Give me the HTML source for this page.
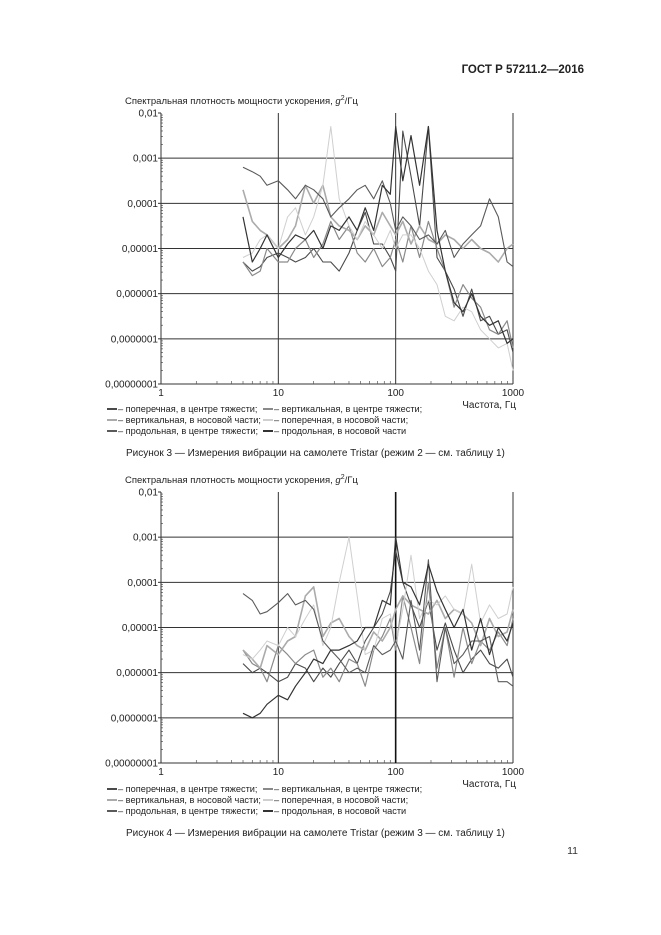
<!DOCTYPE html>
<html><head><meta charset="utf-8"><style>
html,body{margin:0;padding:0;background:#fff;}
svg{display:block;font-family:"Liberation Sans",sans-serif;}
</style></head><body>
<svg id="page" width="661" height="935" viewBox="0 0 661 935" xmlns="http://www.w3.org/2000/svg">
<text x="584" y="73" text-anchor="end" font-size="11.5" font-weight="bold" fill="#222">ГОСТ Р 57211.2—2016</text>
<text x="578" y="854" text-anchor="end" font-size="10.5" fill="#333">11</text>
</svg>
<script>
const freqs=[5,6,7,8,10,12,14,17,20,24,28,33,40,47,55,65,77,90,100,115,135,160,190,225,265,315,375,445,530,630,750,890,1000];
const yTicks=["0,01","0,001","0,0001","0,00001","0,000001","0,0000001","0,00000001"];
const xTicks=["1","10","100","1000"];
const legendLabels=["– поперечная, в центре тяжести;","– вертикальная, в центре тяжести;","– вертикальная, в носовой части;","– поперечная, в носовой части;","– продольная, в центре тяжести;","– продольная, в носовой части"];
// chart 1 series (log10 of g²/Hz)
const c1PopCenter=[-5.3,-5.5,-5.4,-5.2,-5.1,-5.2,-5.3,-5.2,-5.0,-5.3,-5.3,-5.5,-5.1,-4.6,-4.2,-4.9,-4.9,-5.2,-5.5,-2.4,-3.4,-4.5,-2.3,-5.2,-5.5,-5.9,-6.5,-5.9,-6.6,-6.5,-6.9,-6.8,-7.3];
const c1VertCenter=[-5.3,-5.6,-5.5,-5.0,-5.3,-5.3,-5.0,-4.8,-5.2,-4.9,-4.4,-4.8,-4.5,-5.1,-5.3,-5.0,-5.4,-5.2,-4.8,-5.3,-4.5,-5.2,-4.4,-5.0,-5.5,-6.3,-5.8,-6.1,-6.3,-6.8,-6.9,-6.6,-7.2];
const c1VertNose=[-3.7,-4.4,-4.6,-4.7,-5.0,-4.8,-4.5,-3.6,-4.0,-3.6,-4.3,-4.5,-4.6,-4.8,-4.5,-4.7,-4.2,-4.5,-4.7,-4.4,-4.9,-4.5,-4.8,-4.9,-4.7,-4.8,-5.0,-4.8,-5.0,-5.1,-5.3,-5.0,-4.9];
const c1PopNose=[-5.2,-5.1,-4.8,-4.7,-5.0,-4.3,-4.1,-4.7,-4.3,-3.6,-2.3,-3.9,-4.5,-4.8,-4.4,-4.7,-5.0,-4.6,-5.0,-4.7,-4.7,-5.0,-5.5,-5.8,-6.5,-6.6,-6.3,-6.4,-6.8,-7.0,-7.2,-7.1,-7.7];
const c1ProdCenter=[-3.2,-3.3,-3.4,-3.6,-3.5,-3.7,-3.9,-3.6,-3.7,-3.9,-4.3,-4.1,-3.9,-3.7,-3.6,-3.9,-3.5,-4.0,-4.6,-4.3,-4.5,-4.8,-4.7,-4.9,-4.6,-5.2,-4.9,-4.7,-4.5,-3.9,-4.3,-5.3,-5.4];
const c1ProdNose=[-4.3,-5.3,-5.0,-4.7,-5.2,-4.9,-4.7,-4.8,-4.6,-5.0,-4.5,-4.6,-4.3,-4.6,-4.1,-4.6,-3.6,-3.8,-2.3,-3.5,-2.5,-3.6,-2.3,-4.6,-5.5,-6.2,-6.4,-6.0,-6.5,-6.7,-6.6,-7.1,-7.0];
// chart 2 series
const c2PopCenter=[-5.8,-6.0,-5.9,-6.0,-6.2,-6.1,-5.8,-5.9,-6.2,-5.9,-6.1,-5.8,-5.5,-5.8,-5.3,-5.0,-4.7,-4.2,-3.3,-4.0,-4.5,-5.0,-4.4,-5.5,-4.9,-5.5,-6.0,-5.7,-5.5,-5.8,-5.9,-5.7,-6.1];
const c2VertCenter=[-5.5,-5.8,-5.9,-6.2,-5.4,-5.6,-5.8,-5.6,-5.5,-6.1,-5.9,-6.2,-5.7,-5.8,-6.3,-5.5,-5.2,-4.8,-5.5,-4.3,-5.0,-5.8,-4.0,-5.9,-5.0,-6.1,-5.0,-5.8,-5.3,-5.5,-5.1,-5.4,-4.8];
const c2VertNose=[-5.5,-5.7,-5.9,-5.4,-5.6,-5.3,-5.2,-4.3,-4.1,-5.2,-4.9,-4.8,-5.2,-5.4,-5.5,-5.1,-5.3,-5.0,-4.6,-4.3,-4.5,-4.6,-4.7,-4.4,-4.8,-4.6,-4.7,-4.9,-5.4,-4.8,-5.2,-5.1,-4.6];
const c2PopNose=[-5.6,-5.7,-5.5,-5.3,-5.4,-5.0,-5.2,-4.8,-4.5,-5.4,-5.0,-4.0,-3.0,-4.3,-5.6,-5.5,-4.8,-4.7,-5.4,-4.6,-3.4,-4.8,-4.4,-4.5,-4.3,-4.6,-4.7,-3.6,-4.9,-4.5,-4.8,-4.7,-4.1];
const c2ProdCenter=[-4.25,-4.4,-4.7,-4.65,-4.45,-4.25,-4.5,-4.4,-4.6,-5.3,-5.5,-5.7,-6.0,-5.9,-6.0,-5.4,-5.6,-5.5,-5.3,-5.7,-4.4,-5.5,-3.5,-6.2,-5.0,-5.8,-5.6,-5.3,-5.3,-5.2,-6.2,-6.2,-6.3];
const c2ProdNose=[-6.9,-7.0,-6.9,-6.7,-6.5,-6.6,-6.3,-6.0,-5.7,-5.8,-5.5,-5.5,-5.4,-5.3,-5.0,-5.0,-4.4,-4.5,-3.0,-4.0,-4.1,-4.5,-3.6,-4.2,-4.6,-5.0,-4.6,-5.5,-4.8,-5.6,-5.0,-5.3,-4.9];

const charts=[
 {name:'figure-3',x0:161,x1:513,y0:113,y1:384,title:'Спектральная плотность мощности ускорения, ',tY:104,series:[c1PopCenter,c1VertCenter,c1VertNose,c1PopNose,c1ProdCenter,c1ProdNose],legY:412,cap:'Рисунок 3 — Измерения вибрации на самолете Tristar (режим 2 — см. таблицу 1)',capY:456},
 {name:'figure-4',x0:161,x1:513,y0:492,y1:763,title:'Спектральная плотность мощности ускорения, ',tY:483,series:[c2PopCenter,c2VertCenter,c2VertNose,c2PopNose,c2ProdCenter,c2ProdNose],legY:792,cap:'Рисунок 4 — Измерения вибрации на самолете Tristar (режим 3 — см. таблицу 1)',capY:836}
];
const colors=['#4a4a4a','#8a8a8a','#ababab','#cfcfcf','#5a5a5a','#333'];
const widths=[1.1,1.2,1.6,1,1.1,1.2];
const NS='http://www.w3.org/2000/svg';
const svg=document.getElementById('page');
function mk(tag,attrs,parent,txt){const e=document.createElementNS(NS,tag);for(const k in attrs)e.setAttribute(k,attrs[k]);if(txt!==undefined)e.textContent=txt;parent.appendChild(e);return e;}
charts.forEach((c,ci)=>{
 const g=mk('g',{},svg);
 
 
 const xS=f=>c.x0+(Math.log10(f))/3*(c.x1-c.x0);
 const yS=l=>c.y0+(-2-l)/6*(c.y1-c.y0);
 const t=mk('text',{x:125,y:c.tY,'font-size':'9.5',fill:'#222'},g,c.title);
 
 
 mk('tspan',{'font-style':'italic'},t,'g');
 mk('tspan',{'font-size':'7',dy:'-4'},t,'2');
 mk('tspan',{dy:'4'},t,'/Гц');
 yTicks.forEach((lab,i)=>{
  const y=yS(-2-i);
  if(i>0){const l=mk('line',{x1:c.x0,x2:c.x1,y1:y,y2:y,stroke:'#333','stroke-width':1},g);
  
  }
  mk('line',{x1:c.x0-3,x2:c.x0,y1:y,y2:y,stroke:'#333'},g);
  const tx=mk('text',{x:c.x0-3,y:y+3.5,'text-anchor':'end','font-size':'10',fill:'#222'},g,lab);
  
  
  if(i<6)for(let m=2;m<10;m++){const yy=yS(-3-i+Math.log10(m));mk('line',{x1:c.x0,x2:c.x0+2,y1:yy,y2:yy,stroke:'#555','stroke-width':0.7},g);}
 });
 xTicks.forEach((lab,i)=>{
  const x=xS(Math.pow(10,i));
  const l=mk('line',{x1:x,x2:x,y1:c.y0,y2:c.y1,stroke:i==2&&ci==1?'#111':'#333','stroke-width':i==2&&ci==1?1.6:1},g);
  
  
  const tx=mk('text',{x:x,y:c.y1+12,'text-anchor':'middle','font-size':'10',fill:'#222'},g,lab);
  
  
  if(i<3)for(let m=2;m<10;m++){const xx=xS(Math.pow(10,i)*m);mk('line',{x1:xx,x2:xx,y1:c.y1,y2:c.y1-3,stroke:'#555','stroke-width':0.7},g);}
 });
 const xt=mk('text',{x:c.x1+3,y:c.y1+24,'text-anchor':'end','font-size':'10',fill:'#222'},g,'Частота, Гц');
 
 
 c.series.forEach((s,si)=>{
  const d=s.map((v,k)=>(k?'L':'M')+xS(freqs[k]).toFixed(1)+','+yS(v).toFixed(1)).join('');
  const p=mk('path',{d:d,fill:'none',stroke:colors[si],'stroke-width':widths[si],'stroke-linejoin':'round'},g);
  
  
 });
 legendLabels.forEach((lab,i)=>{
  const col=i%2,row=Math.floor(i/2);
  const x=col?263:107,y=c.legY+row*11;
  const sw=mk('line',{x1:x,x2:x+10,y1:y-3,y2:y-3,stroke:colors[i],'stroke-width':2},g);
  
  
  const tx=mk('text',{x:x+11,y:y,'font-size':'9.2',fill:'#222'},g,lab);
  
  
 });
 const cp=mk('text',{x:126,y:c.capY,'font-size':'10',fill:'#222'},g,c.cap);
 
 
});
</script>
</body></html>
